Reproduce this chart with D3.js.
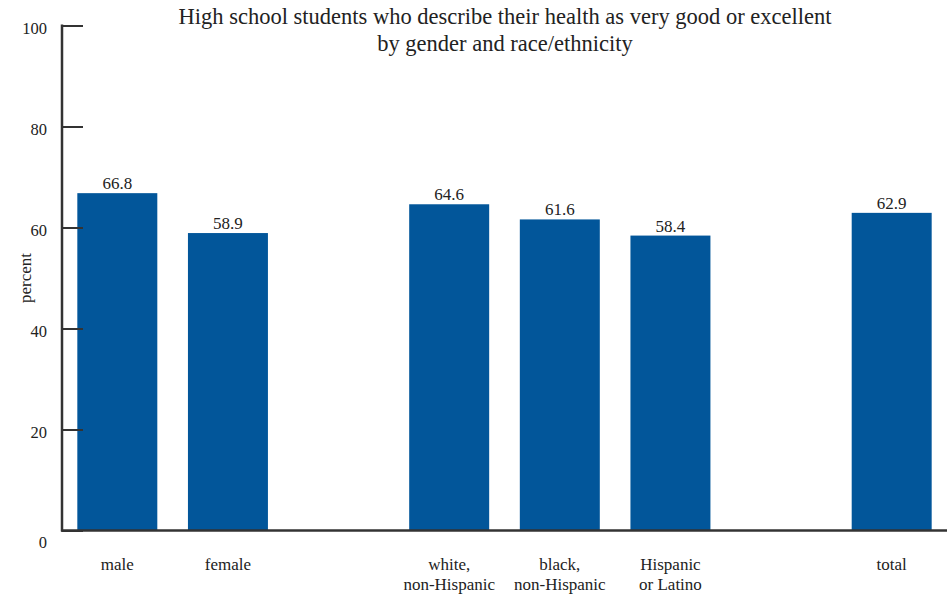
<!DOCTYPE html>
<html><head><meta charset="utf-8">
<script src="https://cdn.jsdelivr.net/npm/d3@7"></script>
<style>
html,body{margin:0;padding:0;background:#fff;}
svg text{font-family:"Liberation Serif","DejaVu Serif",serif;fill:#222;}
</style></head>
<body><svg id="c" width="952" height="598"></svg>
<script>
const slots = ["male","female","gap1","white","black","hispanic","gap2","total"];
const values = [66.8, 58.9, null, 64.6, 61.6, 58.4, null, 62.9];
const labelLines = [["male"],["female"],[],["white,","non-Hispanic"],["black,","non-Hispanic"],["Hispanic","or Latino"],[],["total"]];
const yTicks = [0,20,40,60,80,100];
const titleLines = ["High school students who describe their health as very good or excellent","by gender and race/ethnicity"];

const svg = d3.select("#c");
const x = d3.scaleBand().domain(slots).range([62, 947]).paddingInner(0.277).paddingOuter(0.1385);
const y = d3.scaleLinear().domain([0,100]).range([530.5, 25.5]);

const data = slots.map((s,i)=>({s, v:values[i], lines:labelLines[i]}));

// bars
svg.selectAll("rect.bar").data(data.filter(d=>d.v!=null)).join("rect")
  .attr("class","bar")
  .attr("x", d=>x(d.s)).attr("width", x.bandwidth())
  .attr("y", d=>y(d.v)).attr("height", d=>y(0)-y(d.v))
  .attr("fill","#02569A");

// value labels
svg.selectAll("text.val").data(data.filter(d=>d.v!=null)).join("text")
  .attr("class","val")
  .attr("x", d=>x(d.s)+x.bandwidth()/2).attr("y", d=>y(d.v)-4)
  .attr("text-anchor","middle").attr("font-size","17px")
  .text(d=>d.v.toFixed(1));

// y axis
const yAxis = d3.axisLeft(y).tickValues(yTicks).tickSize(-21).tickPadding(0);
const gy = svg.append("g").attr("transform","translate(62,0)").call(yAxis);
gy.select(".domain").remove();
gy.selectAll(".tick line").attr("stroke","#333").attr("stroke-width",2);
gy.selectAll(".tick text").attr("x",-15).attr("font-size","16.5px")
  .attr("font-family","Liberation Serif, DejaVu Serif, serif").attr("fill","#222")
  .attr("dy", d=> d===0 ? "1.0em" : "0.5em");
svg.append("line").attr("x1",62).attr("x2",62).attr("y1",y(100)-1).attr("y2",y(0)+1)
  .attr("stroke","#333").attr("stroke-width",2.5);

// x axis
const xAxis = d3.axisBottom(x).tickSize(0).tickFormat("");
const gx = svg.append("g").attr("transform",`translate(0,${y(0)})`).call(xAxis);
gx.select(".domain").attr("stroke","#333").attr("stroke-width",2.5).attr("d","M61,0H947");
gx.selectAll(".tick").each(function(d,i){
  const lines = labelLines[slots.indexOf(d)];
  const t = d3.select(this).append("text").attr("text-anchor","middle").attr("font-size","17px")
    .attr("fill","#222").attr("font-family","Liberation Serif, DejaVu Serif, serif");
  lines.forEach((l,j)=>t.append("tspan").attr("x",0).attr("y",39+j*20).text(l));
});

// y label
svg.append("text").attr("transform","translate(31,278) rotate(-90)")
  .attr("text-anchor","middle").attr("font-size","17px").text("percent");

// title
svg.selectAll("text.title").data(titleLines).join("text").attr("class","title")
  .attr("x",505).attr("y",(d,i)=>24+i*27).attr("text-anchor","middle")
  .attr("font-size","22.5px").text(d=>d);
</script></body></html>
